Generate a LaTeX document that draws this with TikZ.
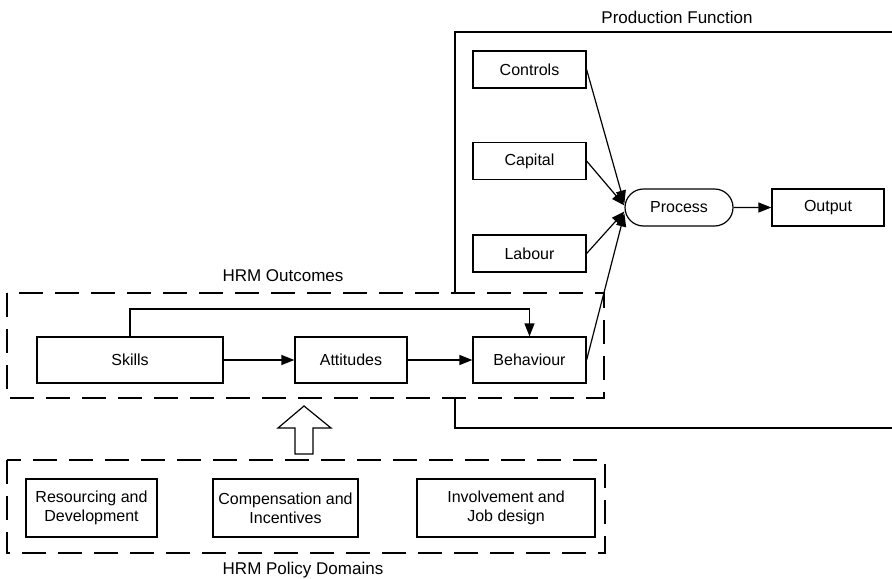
\documentclass[tikz,border=0pt]{standalone}
\usepackage{fontspec}
\setmainfont{Liberation Sans}
\usepackage{tikz}
\usetikzlibrary{shapes.misc}
\usetikzlibrary{arrows.meta}

\tikzset{
  block/.style={draw, rectangle, line width=0.6pt, inner sep=1pt,
    font=\fontsize{8}{9.6}\selectfont, align=center},
  link/.style={line width=0.6pt, -{Triangle[length=6.5pt,width=5pt]}},
  frame/.style={line width=0.6pt},
  groupbox/.style={line width=0.6pt, dash pattern=on 12pt off 6pt},
  title/.style={font=\fontsize{8.5}{10}\selectfont}
}

\begin{document}
\begin{tikzpicture}[x=0.5pt, y=-0.5pt]
    \useasboundingbox (0,0) rectangle (892,578);

    % production function frame
    \node[title] (pftitle) at (677,17) {Production Function};
    \draw[frame] (455,293) -- (455,32) -- (892,32);
    \draw[frame] (455,398) -- (455,428) -- (892,428);

    % inputs, process and output
    \node[block, minimum width=56.5pt, minimum height=18.5pt] (controls) at (529.5,69.5) {Controls};
    \node[block, minimum width=56.5pt, minimum height=18.5pt] (capital) at (529.5,161) {Capital};
    \node[block, minimum width=56.5pt, minimum height=18.5pt] (labour) at (529.5,253.5) {Labour};
    \node[block, rounded rectangle, minimum width=56pt, minimum height=18.5pt] (process) at (679,207.5) {Process};
    \node[block, minimum width=56pt, minimum height=18.5pt] (output) at (828,207.5) {Output};

    % HRM outcomes
    \node[title] (outtitle) at (283,276) {HRM Outcomes};
    \draw[groupbox] (7,293) rectangle (604,398);
    \node[block, minimum width=93pt, minimum height=23pt] (skills) at (130,360) {Skills};
    \node[block, minimum width=56pt, minimum height=23pt] (attitudes) at (351,360) {Attitudes};
    \node[block, minimum width=56.5pt, minimum height=23pt] (behaviour) at (529.5,360) {Behaviour};

    % HRM policy domains
    \node[title] (poltitle) at (303,570) {HRM Policy Domains};
    \draw[groupbox] (7,460) rectangle (605,553);
    \node[block, minimum width=65.5pt, minimum height=29pt] (resourcing) at (91.5,508) {Resourcing and\\Development};
    \node[block, minimum width=72.5pt, minimum height=29pt] (compensation) at (285.5,508) {Compensation and\\Incentives};
    \node[block, minimum width=89pt, minimum height=29pt] (involvement) at (506,508) {Involvement and\\Job design};

    % hollow arrow from policies to outcomes
    \draw[frame] (304,406) -- (331,428) -- (313,428) -- (313,454)
        -- (295,454) -- (295,428) -- (278,428) -- cycle;

    % links
    \draw[link] (controls.east) -- ([yshift=2pt]process.west);
    \draw[link] (capital.east) -- ([yshift=1pt]process.west);
    \draw[link] (labour.east) -- ([yshift=-2pt]process.west);
    \draw[link] (behaviour.east) -- ([yshift=-3pt]process.west);
    \draw[link] (process) -- (output);
    \draw[link] (skills) -- (attitudes);
    \draw[link] (attitudes) -- (behaviour);
    \draw[link] (skills.north) -- (skills.north |- 0,309) -| (behaviour.north);

\end{tikzpicture}
\end{document}
